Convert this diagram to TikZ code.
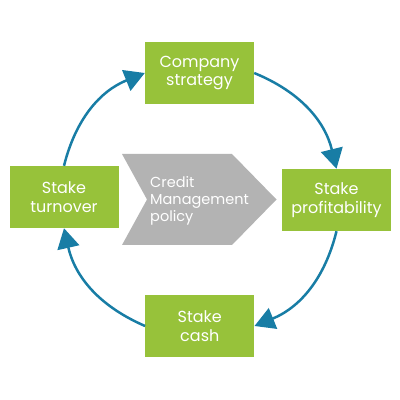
\documentclass[tikz,border=0pt]{standalone}
\usepackage{fontspec}
\setmainfont{Poppins}
\usetikzlibrary{arrows.meta}
\definecolor{boxgreen}{RGB}{151,194,58}
\definecolor{loopblue}{RGB}{24,125,165}
\definecolor{policygray}{RGB}{179,179,179}

\begin{document}
\begin{tikzpicture}[x=1pt, y=1pt,
        stage/.style={fill=boxgreen, text=white, minimum width=109pt, minimum height=62pt, align=center, inner sep=0pt, font=\fontsize{16}{18.5}\selectfont},
        flow/.style={draw=loopblue, line width=2.5pt, -{Triangle[length=20pt,width=22pt]}}]
        \useasboundingbox (0,0) rectangle (400,400);
        % the four stages
        \draw (199.5,327) node (S) [stage] {Company\\strategy};
        \draw (336.5,200) node (P) [stage] {Stake\\profitability};
        \draw (199.8,74) node (C) [stage] {Stake\\cash};
        \draw (64,203) node (T) [stage] {Stake\\turnover};
        % policy arrow in the middle
        \fill[policygray] (122,246) -- (232,246) -- (276.5,200.5) -- (232,155) -- (122,155) -- (147,200.5) -- cycle;
        \draw (150,199) node (M) [anchor=west, align=left, text=white, inner sep=0pt, font=\fontsize{14.5}{16.7}\selectfont] {Credit\\Management\\policy};
        % the loop
        \draw[flow] (T.north) to[bend left=27] (S.west);
        \draw[flow] (S.east) to[bend left=27] (P.north);
        \draw[flow] (P.south) to[bend left=27] (C.east);
        \draw[flow] (C.west) to[bend left=27] (T.south);
    \end{tikzpicture}
\end{document}
